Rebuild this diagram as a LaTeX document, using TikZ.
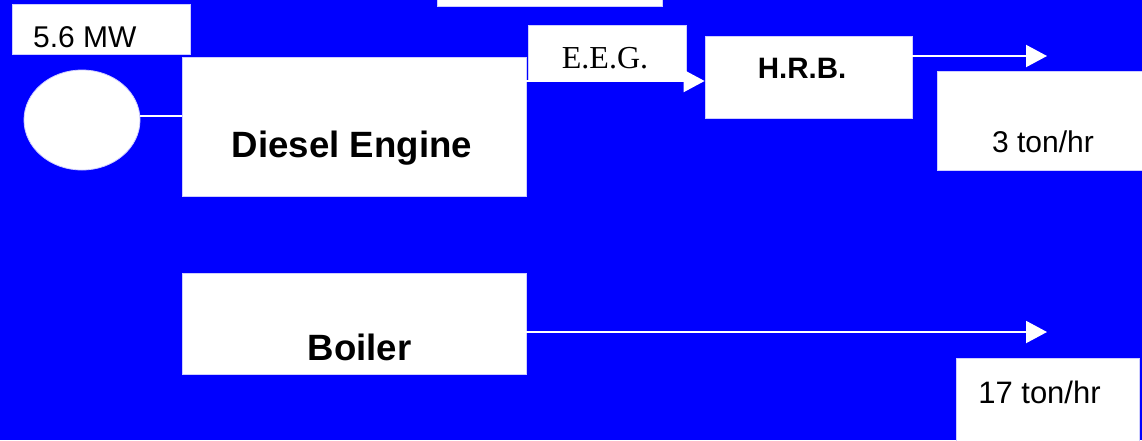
\documentclass[tikz,border=0pt]{standalone}
\usepackage{fontspec}
\setmainfont{Liberation Sans}
\newfontfamily\timesfont{Liberation Serif}
\usetikzlibrary{arrows.meta,shapes.geometric}
\definecolor{bgblue}{RGB}{0,0,255}
\definecolor{edge}{RGB}{205,205,255}
\tikzset{
  box/.style={rectangle, fill=white, draw=edge, line width=0.8pt, inner sep=0pt},
  lbl/.style={inner sep=0pt, anchor=base, font=\fontsize{30}{30}\selectfont},
  boldlbl/.style={inner sep=0pt, anchor=base, font=\fontsize{36.6}{36.6}\selectfont\bfseries},
  flow/.style={draw=white, line width=2pt, -{Triangle[length=21pt, width=22pt]}},
  link/.style={draw=white, line width=2pt},
}
\begin{document}
\begin{tikzpicture}[x=1pt, y=-1pt]
  % background and frame
  \path[fill=bgblue] (0,0) rectangle (1142,440);
  \useasboundingbox (0,0) rectangle (1142,440);
  \clip (0,0) rectangle (1142,440);

  % blocks
  \node[box, minimum width=225pt, minimum height=30pt] (top) at (549.5,-9) {};
  \node[box, minimum width=178pt, minimum height=50pt] (mw) at (101,29) {};
  \node[ellipse, fill=white, draw=edge, line width=0.8pt, minimum width=116pt, minimum height=100pt, inner sep=0pt] (gen) at (82,120) {};
  \node[box, minimum width=344pt, minimum height=139pt] (diesel) at (354,126.5) {};
  \node[box, minimum width=158pt, minimum height=56pt] (eeg) at (607,53) {};
  \node[box, minimum width=207pt, minimum height=82pt] (hrb) at (808.5,77) {};
  \node[box, minimum width=208pt, minimum height=99pt] (out1) at (1041,120.5) {};
  \node[box, minimum width=344pt, minimum height=101pt] (boiler) at (354,323.5) {};
  \node[box, minimum width=183pt, minimum height=92pt] (out2) at (1047.5,404) {};

  % texts
  \node[lbl, anchor=base west] (mwtext) at (33,47) {5.6 MW};
  \node[boldlbl] (dieseltext) at (352,157) {Diesel Engine};
  \node[boldlbl] (boilertext) at (359.5,360) {Boiler};
  \node[lbl, font=\fontsize{29.5}{29.5}\selectfont\bfseries] (hrbtext) at (802,78) {H.R.B.};
  \node[lbl, font=\fontsize{32}{32}\selectfont\timesfont] (eegtext) at (605,68) {E.E.G.};
  \node[lbl] (out1text) at (1043,152) {3 ton/hr};
  \node[lbl, font=\fontsize{31}{31}\selectfont] (out2text) at (1039.5,403) {17 ton/hr};

  % free ends of the outgoing flows
  \coordinate (steam1) at (1047,56);
  \coordinate (steam2) at (1047,332);

  % connectors
  \draw[link] (gen.east |- 0,116) -- (diesel.west |- 0,116);
  \draw[flow] (diesel.east |- 0,81) -- (hrb.west |- 0,81);
  \draw[flow] (hrb.east |- steam1) -- (steam1);
  \draw[flow] (boiler.east |- steam2) -- (steam2);
\end{tikzpicture}
\end{document}
